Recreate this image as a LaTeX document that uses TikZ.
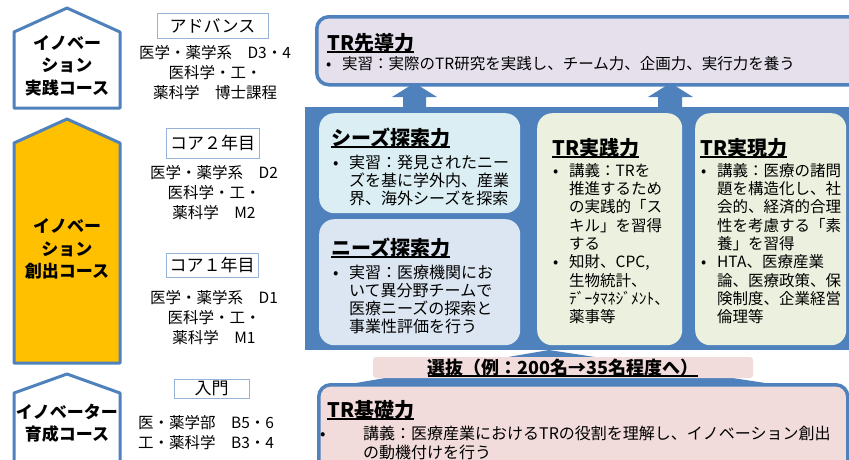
\documentclass[tikz,border=0pt]{standalone}
\usepackage{fontspec}
\setmainfont{Noto Sans CJK JP}
\definecolor{cblue}{RGB}{79,129,189}
\definecolor{corange}{RGB}{255,192,0}
\definecolor{clav}{RGB}{229,224,236}
\definecolor{cseeds}{RGB}{218,238,243}
\definecolor{cneeds}{RGB}{220,230,242}
\definecolor{cgreen}{RGB}{235,241,222}
\definecolor{cpink}{RGB}{242,220,219}
\definecolor{clbl}{RGB}{149,179,215}
\newcommand{\fs}[2]{\fontsize{#1}{#2}\selectfont}
\newcommand{\bl}{\makebox[16pt][l]{•}}
\newcommand{\ind}{\hspace*{16pt}}
\newcommand{\ul}[1]{\setbox0\hbox{#1}\rlap{\rule[-2.5pt]{\wd0}{1.3pt}}\box0}
\begin{document}
\begin{tikzpicture}[x=1pt,y=-1pt,
  pent/.style={draw=cblue, line width=3pt, line join=round},
  lbl/.style={draw=clbl, line width=0.8pt, fill=white, inner sep=0, font=\fs{17}{20}},
  course/.style={font=\bfseries\fs{17}{22.5}, align=center, inner sep=0},
  info/.style={font=\fs{15.5}{20}, align=center, inner sep=0},
  rbox/.style={draw=cblue, line width=3.5pt, rounded corners=12pt, anchor=north west, inner sep=0},
  ibox/.style={rounded corners=15pt, anchor=north west, inner sep=0},
  ttl/.style={font=\bfseries\fs{20}{24}, anchor=base west, inner sep=0},
  body/.style={font=\fs{16}{18}, align=left, anchor=north west, inner sep=0}]
\useasboundingbox (0,0) rectangle (849,459);
\clip (0,0) rectangle (849,459);
% left column pentagons
\draw[pent, fill=white] (14,108) -- (14,32) -- (67,8) -- (120,32) -- (120,108) -- cycle;
\draw[pent, fill=corange] (14,363) -- (14,143) -- (67,119) -- (120,143) -- (120,363) -- cycle;
\draw[pent, fill=white] (14,475) -- (14,393) -- (67,374) -- (120,393) -- (120,475);
\node[course] (c1) at (67,65.5) {イノベー\\ション\\実践コース};
\node[course] (c2) at (67,249) {イノベー\\ション\\創出コース};
\node[course] (c3) at (67,423) {イノベーター\\育成コース};
% level labels
\node[lbl, minimum width=111pt, minimum height=25pt] (l1) at (212.5,25.5) {アドバンス};
\node[info] (i1) at (215,72.5) {医学・薬学系　D3・4\\医科学・工・\\薬科学　博士課程};
\node[lbl, minimum width=93pt, minimum height=30pt] (l2) at (212.5,143) {コア２年目};
\node[info] (i2) at (214,192.5) {医学・薬学系　D2\\医科学・工・\\薬科学　M2};
\node[lbl, minimum width=92pt, minimum height=24pt] (l3) at (212,265) {コア１年目};
\node[info] (i3) at (214,317.5) {医学・薬学系　D1\\医科学・工・\\薬科学　M1};
\node[lbl, minimum width=75pt, minimum height=19pt] (l4) at (211.5,388.5) {入門};
\node[info, align=left, anchor=west] (i4) at (138,432.5) {医・薬学部　B5・6\\工・薬科学　B3・4};
% block arrows up
\fill[cblue] (403,108) -- (403,97) -- (392,97) -- (414.5,83) -- (437,97) -- (426,97) -- (426,108) -- cycle;
\fill[cblue] (658,108) -- (658,97) -- (648,97) -- (670.5,83) -- (693,97) -- (682,97) -- (682,108) -- cycle;
% panel
\node[anchor=north west, fill=cblue, minimum width=560pt, minimum height=243pt, inner sep=0] (panel) at (305,107) {};
\node[rbox, fill=clav, minimum width=545pt, minimum height=68pt] (sendo) at (315,15) {};
\node[ibox, fill=cseeds, minimum width=201pt, minimum height=100pt] (seeds) at (319,113) {};
\node[ibox, fill=cneeds, minimum width=201pt, minimum height=126pt] (needs) at (319,219) {};
\node[ibox, fill=cgreen, minimum width=145pt, minimum height=232pt] (jissen) at (537,113) {};
\node[ibox, fill=cgreen, minimum width=151pt, minimum height=232pt] (jitsugen) at (695,113) {};
% selection arrow and base box
\fill[cblue] (350,384) -- (549,350) -- (772,384) -- cycle;
\node[rbox, fill=cpink, minimum width=529pt, minimum height=90pt] (kiso) at (317,383) {};
\node[fill=cpink, rounded corners=3pt, minimum width=380pt, minimum height=21pt, inner sep=0, font=\bfseries\fs{18}{20}] (senbatsu) at (563,367.5) {\ul{選抜（例：200名→35名程度へ）}};
% texts
\node[ttl] (t1) at (327,50) {\ul{TR先導力}};
\node[body, font=\fs{15.5}{18}] (b1) at (326,56) {\bl 実習：実際のTR研究を実践し、チーム力、企画力、実行力を養う};
\node[ttl] (t2) at (331,145) {\ul{シーズ探索力}};
\node[body] (b2) at (333,155) {\bl 実習：発見されたニー\\\ind ズを基に学外内、産業\\\ind 界、海外シーズを探索};
\node[ttl] (t3) at (331,255) {\ul{ニーズ探索力}};
\node[body] (b3) at (333,265) {\bl 実習：医療機関にお\\\ind いて異分野チームで\\\ind 医療ニーズの探索と\\\ind 事業性評価を行う};
\node[ttl] (t4) at (552,155) {\ul{TR実践力}};
\node[body, font=\fs{15.5}{18.3}] (b4) at (553,163) {\bl 講義：TRを\\\ind 推進するため\\\ind の実践的「ス\\\ind キル」を習得\\\ind する\\\bl 知財、CPC,\\\ind 生物統計、\\\ind ﾃﾞｰﾀﾏﾈｼﾞﾒﾝﾄ、\\\ind 薬事等};
\node[ttl] (t5) at (700,155) {\ul{TR実現力}};
\node[body, font=\fs{15.5}{18.3}] (b5) at (701,163) {\bl 講義：医療の諸問\\\ind 題を構造化し、社\\\ind 会的、経済的合理\\\ind 性を考慮する「素\\\ind 養」を習得\\\bl HTA、医療産業\\\ind 論、医療政策、保\\\ind 険制度、企業経営\\\ind 倫理等};
\node[ttl] (t6) at (327,417) {\ul{TR基礎力}};
\node[body, font=\fs{16}{18.5}] (b6) at (320,426) {\makebox[43pt][l]{•}講義：医療産業におけるTRの役割を理解し、イノベーション創出\\\hspace*{43pt}の動機付けを行う};
\end{tikzpicture}
\end{document}
